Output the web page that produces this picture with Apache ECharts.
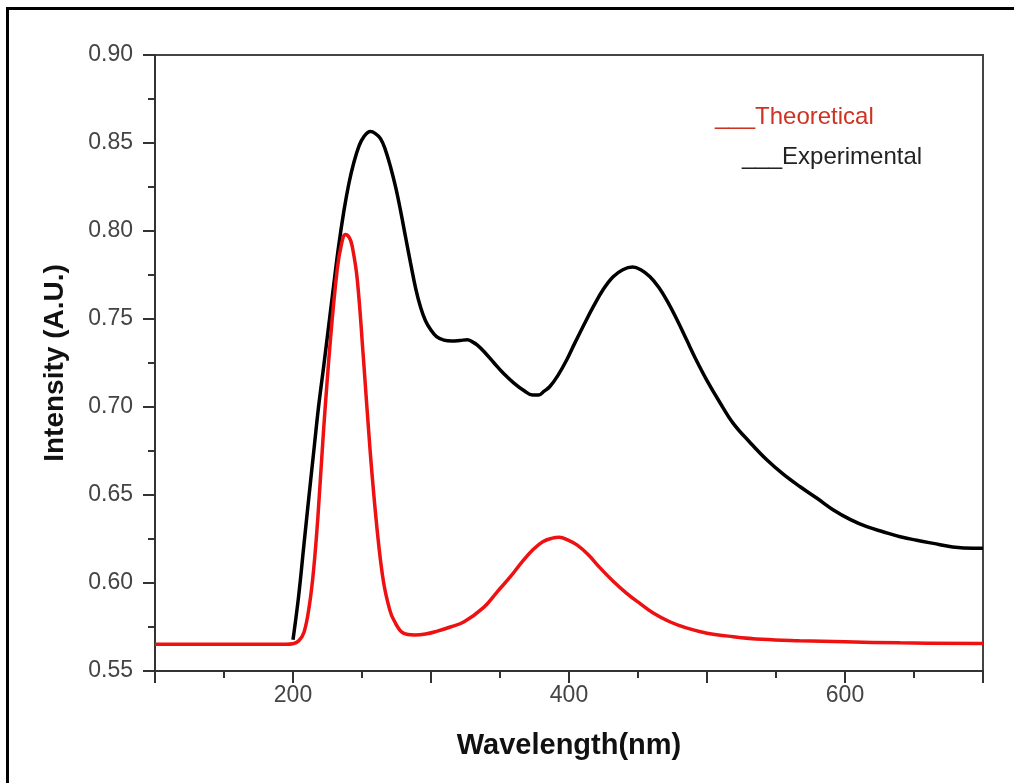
<!DOCTYPE html>
<html>
<head>
<meta charset="utf-8">
<script src="https://cdn.jsdelivr.net/npm/echarts@6/dist/echarts.min.js"></script>
<style>
html,body{margin:0;padding:0;background:#fff;}
#chart{width:1014px;height:783px;}
</style>
</head>
<body>
<div id="chart"></div>
<script>
// Wavelength (nm), intensity pairs
const theoretical = [
  [100,0.5652],[150,0.5652],[195,0.5652],[200,0.5655],[204,0.567],[208,0.572],[212,0.588],[215,0.608],
  [218,0.637],[222,0.685],[227,0.737],[232,0.778],[235,0.792],[238,0.798],[241,0.796],[243,0.791],
  [246.5,0.773],[251,0.728],[256,0.674],[261,0.630],[265.5,0.601],[270,0.585],[273,0.579],[280,0.5715],
  [288,0.5705],[296,0.571],[304,0.5725],[314,0.575],[324,0.578],[338,0.586],[348,0.595],[358,0.604],
  [366,0.612],[374,0.619],[381,0.6235],[388,0.6255],[393,0.626],[399,0.6245],[406,0.6215],[414,0.616],
  [422,0.609],[432,0.601],[442,0.594],[452,0.588],[461,0.583],[473,0.578],[485,0.5745],[500,0.5715],
  [519,0.5695],[540,0.568],[567,0.5672],[600,0.5666],[640,0.566],[700,0.5656]
];
const experimental = [
  [200,0.5678],[204,0.592],[207.7,0.620],[211,0.645],[215,0.6745],[218.5,0.700],[222.2,0.7229],[226,0.747],
  [229.5,0.7693],[233,0.791],[236.8,0.811],[240.5,0.827],[244,0.8386],[248,0.8486],[251.3,0.8535],[256,0.8565],
  [259.5,0.8555],[263.4,0.8525],[267,0.846],[270.7,0.8364],[274.5,0.8245],[278,0.8113],[281.7,0.796],[285.2,0.7817],
  [289,0.767],[292.5,0.7565],[296,0.749],[299.7,0.744],[304,0.740],[309.4,0.738],[315,0.7375],[321,0.7378],
  [326.4,0.7382],[330,0.737],[333.6,0.7352],[339,0.731],[345.7,0.725],[353,0.7187],[360.3,0.7134],[367,0.7095],
  [373.6,0.7068],[378,0.7068],[382,0.709],[386,0.7115],[392,0.718],[398.3,0.7267],[404,0.736],[411,0.747],
  [417.6,0.757],[425,0.767],[432,0.774],[439,0.778],[446,0.7795],[452,0.778],[458.7,0.774],[465,0.768],
  [470.8,0.7607],[478,0.750],[485.3,0.738],[492,0.727],[499.8,0.7153],[509,0.703],[519,0.6907],[531,0.680],
  [543.3,0.670],[555,0.662],[567.5,0.6547],[580,0.648],[591.6,0.6415],[604,0.636],[615.8,0.632],[628,0.629],
  [640,0.6263],[652,0.6243],[664,0.6225],[678,0.6205],[693,0.6197],[700,0.6197]
];
const xLabels = [200, 400, 600];
const seriesNames = ['___Theoretical', '___Experimental'];
const xTitle = 'Wavelength(nm)';
const yTitle = 'Intensity (A.U.)';

const FONT = '"Liberation Sans", Arial, sans-serif';
const chart = echarts.init(document.getElementById('chart'), null, {renderer: 'canvas'});
chart.setOption({
  animation: false,
  backgroundColor: '#fff',
  grid: {left: 155, top: 55, right: 31, bottom: 112, show: true, borderColor: '#444', borderWidth: 2, backgroundColor: 'transparent'},
  xAxis: {
    type: 'value', min: 100, max: 700, interval: 100,
    name: xTitle, nameLocation: 'middle', nameGap: 60,
    nameTextStyle: {fontFamily: FONT, fontSize: 29, fontWeight: 'bold', color: '#111'},
    axisLine: {lineStyle: {color: '#333', width: 2}},
    axisTick: {length: 12, lineStyle: {color: '#333', width: 2}},
    minorTick: {show: true, splitNumber: 2, length: 7, lineStyle: {color: '#333', width: 2}},
    splitLine: {show: false},
    axisLabel: {margin: 13, fontFamily: FONT, fontSize: 23, color: '#444',
      formatter: v => xLabels.includes(v) ? String(v) : ''}
  },
  yAxis: {
    type: 'value', min: 0.55, max: 0.90, interval: 0.05,
    name: yTitle, nameLocation: 'middle', nameGap: 86, nameRotate: 90,
    nameTextStyle: {fontFamily: FONT, fontSize: 28, fontWeight: 'bold', color: '#111'},
    axisLine: {show: true, lineStyle: {color: '#333', width: 2}},
    axisTick: {show: true, length: 12, lineStyle: {color: '#333', width: 2}},
    minorTick: {show: true, splitNumber: 2, length: 7, lineStyle: {color: '#333', width: 2}},
    splitLine: {show: false},
    axisLabel: {margin: 22, fontFamily: FONT, fontSize: 23, color: '#444',
      formatter: v => v.toFixed(2)}
  },
  series: [
    {name: 'Experimental', type: 'line', data: experimental, showSymbol: false, smooth: 0.4,
     lineStyle: {color: '#000', width: 3.5}, z: 2},
    {name: 'Theoretical', type: 'line', data: theoretical, showSymbol: false, smooth: 0.4,
     lineStyle: {color: '#ee1111', width: 3.5}, z: 3}
  ],
  graphic: [
    {type: 'rect', shape: {x: 7.5, y: 8.5, width: 1012, height: 800}, style: {fill: 'none', stroke: '#000', lineWidth: 3}, silent: true},
    {type: 'text', x: 715, y: 117, style: {text: seriesNames[0], fill: '#cc3322', fontFamily: FONT, fontSize: 24, verticalAlign: 'middle'}},
    {type: 'text', x: 742, y: 157, style: {text: seriesNames[1], fill: '#222', fontFamily: FONT, fontSize: 24, verticalAlign: 'middle'}}
  ]
});
</script>
</body>
</html>
